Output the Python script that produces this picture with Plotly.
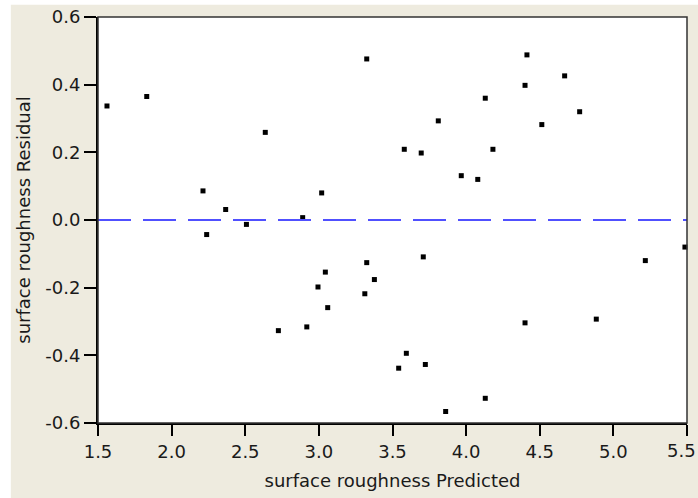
import plotly.graph_objects as go

predicted = [1.561, 1.831, 2.636, 2.213, 2.367, 2.238, 2.508, 2.890, 3.019,
             3.325, 4.413, 4.669, 4.400, 4.130, 4.771, 3.811, 4.514, 3.580,
             3.695, 4.182, 3.967, 4.079, 5.486,
             3.044, 2.994, 3.060, 2.725, 2.918,
             3.325, 3.377, 3.312, 3.709, 5.217, 4.400, 4.884, 3.594, 3.542,
             3.723, 4.130, 3.861]
residual = [0.337, 0.365, 0.259, 0.086, 0.031, -0.043, -0.013, 0.007, 0.080,
            0.476, 0.488, 0.426, 0.398, 0.360, 0.320, 0.293, 0.282, 0.209,
            0.198, 0.209, 0.131, 0.120, -0.080,
            -0.154, -0.198, -0.259, -0.327, -0.316,
            -0.126, -0.176, -0.218, -0.109, -0.120, -0.304, -0.293, -0.394,
            -0.438, -0.427, -0.527, -0.566]
x_ticks = [1.5, 2.0, 2.5, 3.0, 3.5, 4.0, 4.5, 5.0, 5.5]
y_ticks = [-0.6, -0.4, -0.2, 0.0, 0.2, 0.4, 0.6]
zero_line = 0.0

beige = "#EEEBDF"
font_family = "DejaVu Sans, Verdana, sans-serif"
text_color = "#1a1a1a"

W, H = 698, 498
ML, MR, MT, MB = 98, 11, 17, 75
plot_w = W - ML - MR

x_labels = [f"{v:.1f}" for v in x_ticks]
# last label sits at the very right edge; draw it as an annotation nudged inside
last_label = x_labels[-1]
x_labels_axis = x_labels[:-1] + [""]

fig = go.Figure()
fig.add_trace(go.Scatter(
    x=predicted, y=residual, mode="markers",
    marker=dict(symbol="square", size=5, color="black", line=dict(width=0)),
    showlegend=False, cliponaxis=False,
))

fig.add_shape(type="line", xref="paper", yref="y", x0=0, x1=1, y0=zero_line, y1=zero_line,
              line=dict(color="rgb(80,80,255)", width=2, dash="33px,12px"), layer="above")
fig.add_shape(type="rect", xref="paper", yref="paper", x0=0, x1=1, y0=0, y1=1,
              line=dict(color="#333333", width=1.5), layer="above")
# white strips outside the beige panel
fig.add_shape(type="rect", xref="paper", yref="paper", x0=-0.2, x1=-0.148, y0=-0.3, y1=1.1,
              fillcolor="white", line=dict(width=0), layer="below")
fig.add_shape(type="rect", xref="paper", yref="paper", x0=-0.2, x1=1.1, y0=1.030, y1=1.1,
              fillcolor="white", line=dict(width=0), layer="below")

fig.add_annotation(text=last_label, xref="paper", yref="paper",
                   x=(W - 1 - ML) / plot_w, y=0, xanchor="right", yanchor="middle",
                   yshift=-27, showarrow=False, borderpad=0,
                   font=dict(size=18, color=text_color, family=font_family))

fig.update_xaxes(range=[1.5, 5.5], tickvals=x_ticks, ticktext=x_labels_axis,
                 automargin=False, ticklabeloverflow="allow",
                 showgrid=False, zeroline=False, showline=True, linecolor="black", linewidth=2,
                 ticks="outside", ticklen=11, tickwidth=2, tickcolor="black",
                 tickfont=dict(size=18, color=text_color, family=font_family),
                 title=dict(text="surface roughness Predicted", standoff=14,
                            font=dict(size=18, color=text_color, family=font_family)))
fig.update_yaxes(range=[-0.6, 0.6], tickvals=y_ticks, ticktext=[f"{v:.1f}" for v in y_ticks],
                 automargin=False, ticklabeloverflow="allow",
                 showgrid=False, zeroline=False, showline=True, linecolor="black", linewidth=2,
                 ticks="outside", ticklen=12, tickwidth=2, tickcolor="black",
                 tickfont=dict(size=18, color=text_color, family=font_family),
                 title=dict(text="surface roughness Residual", standoff=10,
                            font=dict(size=18, color=text_color, family=font_family)))

fig.update_layout(
    width=W, height=H,
    margin=dict(l=ML, r=MR, t=MT, b=MB),
    paper_bgcolor=beige, plot_bgcolor="white",
)

fig.write_html("out.html")
